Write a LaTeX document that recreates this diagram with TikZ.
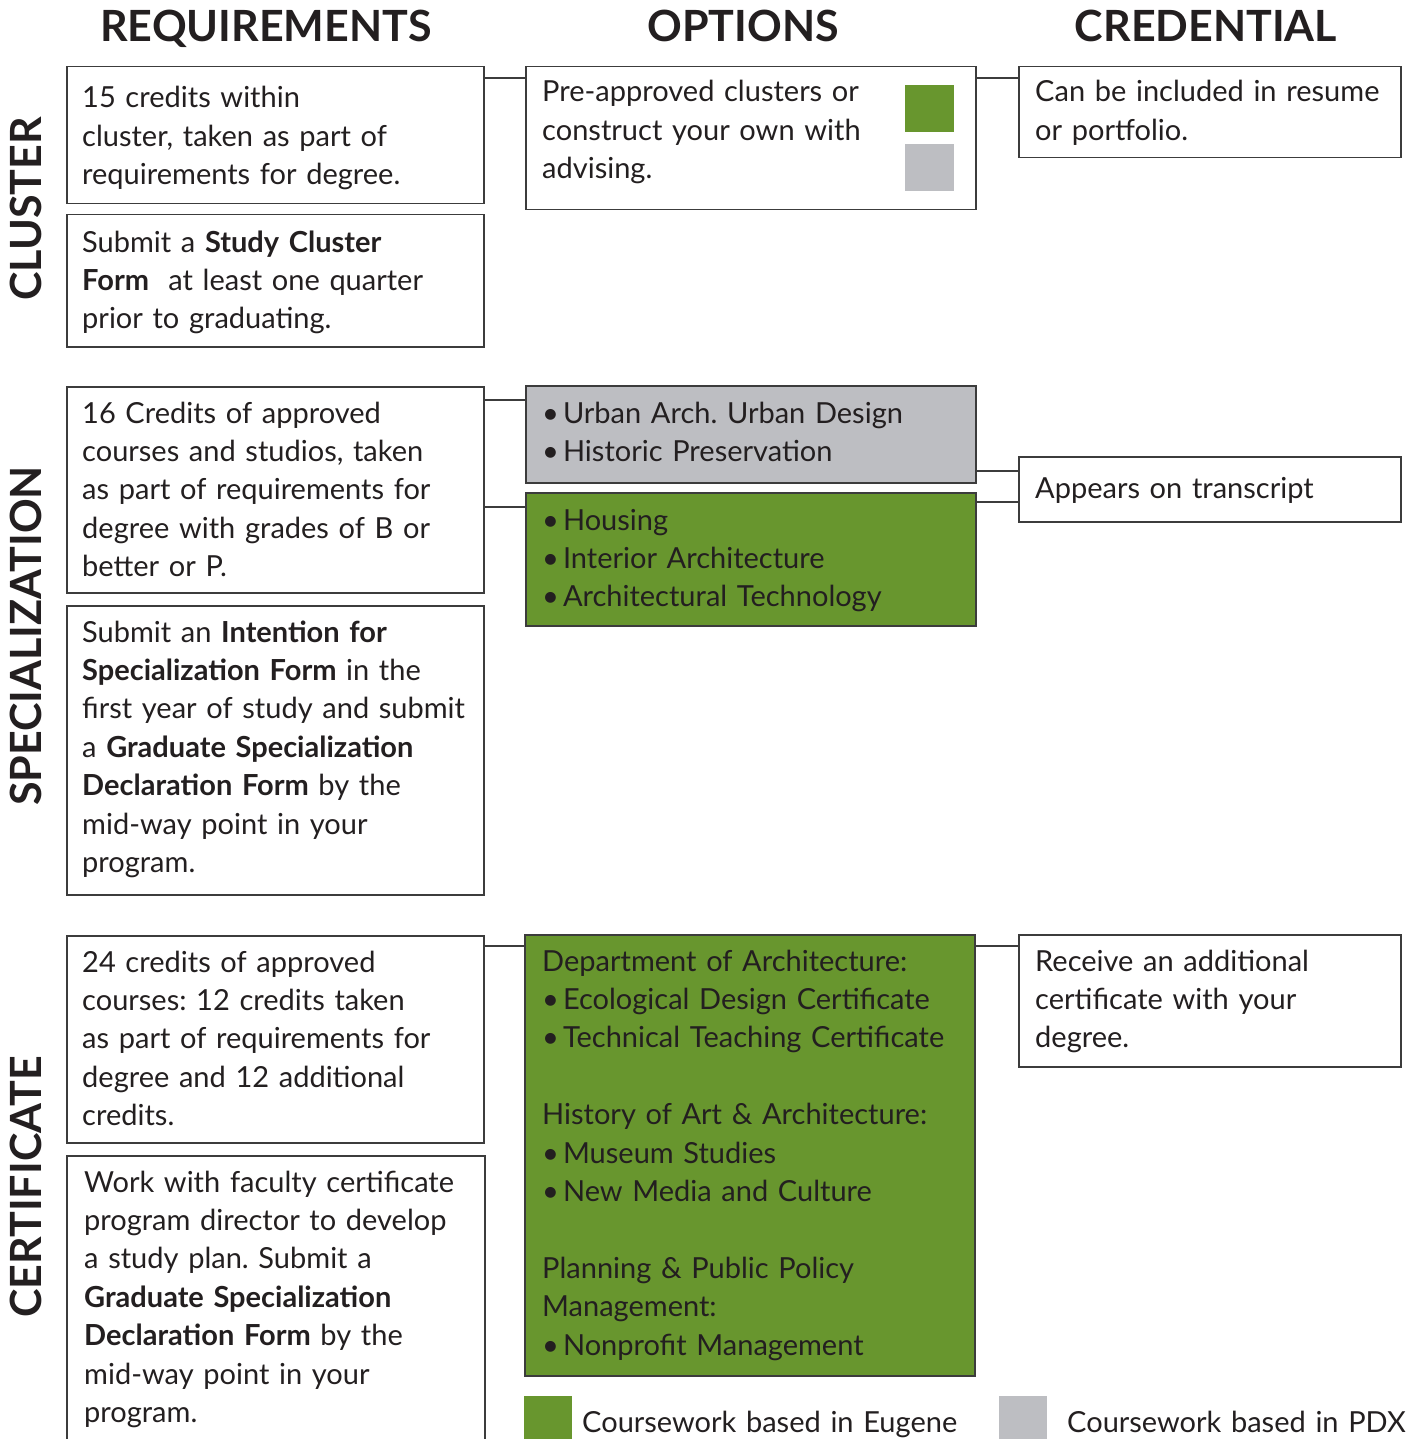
\documentclass[tikz,border=0pt]{standalone}
\usepackage{fontspec}
\setmainfont{Lato}
\definecolor{ink}{HTML}{231F20}
\definecolor{linegray}{HTML}{3C3C3C}
\definecolor{ugreen}{HTML}{68962E}
\definecolor{pgray}{HTML}{BDBEC2}
\newcommand{\bul}{\textbullet\hspace{4pt}}
\begin{document}
\frenchspacing
\begin{tikzpicture}[x=1pt,y=-1pt,
  box/.style={draw=linegray, line width=1.5pt, inner sep=0pt, anchor=north west},
  txt/.style={anchor=base west, inner sep=0pt, text width=600pt, align=left,
              font=\fontsize{29pt}{38.4pt}\selectfont\frenchspacing, text=ink},
  head/.style={font=\fontsize{43pt}{48pt}\selectfont\bfseries, text=ink, inner sep=0pt, anchor=base},
  conn/.style={draw=linegray, line width=1.5pt},
  swatch/.style={inner sep=0pt, anchor=north west}]
\clip (0,0) rectangle (1420,1439);
\fill[white] (0,0) rectangle (1420,1439);

% column headers
\node[head] (hreq) at (266,42) {REQUIREMENTS};
\node[head] (hopt) at (743,42) {OPTIONS};
\node[head] (hcred) at (1206,42) {CREDENTIAL};

% row labels
\node[head, rotate=90] (lclu) at (41,209) {CLUSTER};
\node[head, rotate=90] (lspe) at (41,636) {SPECIALIZATION};
\node[head, rotate=90] (lcer) at (41,1187) {CERTIFICATE};

% ---------- CLUSTER ----------
\node[box, minimum width=417pt, minimum height=137pt] (r1) at (66,66) {};
\node[txt] (r1t) at (82,108) {15 credits within\\ cluster, taken as part of\\ requirements for degree.};
\node[box, minimum width=417pt, minimum height=132pt] (r2) at (66,214) {};
\node[txt] (r2t) at (82,252) {Submit a \textbf{Study Cluster}\\ \textbf{Form}\ \ at least one quarter\\ prior to graduating.};

\node[box, minimum width=450pt, minimum height=143pt] (o1) at (525,66) {};
\node[txt] (o1t) at (542,102) {Pre-approved clusters or\\ construct your own with\\ advising.};
\node[swatch, fill=ugreen, minimum width=49pt, minimum height=47pt] (o1g) at (905,85) {};
\node[swatch, fill=pgray, minimum width=49pt, minimum height=47pt] (o1p) at (905,144) {};

\node[box, minimum width=382pt, minimum height=91pt] (k1) at (1018,66) {};
\node[txt] (k1t) at (1035,102) {Can be included in resume\\ or portfolio.};

\draw[conn] ([yshift=-12pt]r1.north east) -- ([yshift=-12pt]r1.north east -| o1.west);
\draw[conn] ([yshift=-12pt]o1.north east) -- ([yshift=-12pt]o1.north east -| k1.west);

% ---------- SPECIALIZATION ----------
\node[box, minimum width=417pt, minimum height=206pt] (s1) at (66,386) {};
\node[txt] (s1t) at (82,423) {16 Credits of approved\\ courses and studios, taken\\ as part of requirements for\\ degree with grades of B or\\ better or P.};
\node[box, minimum width=417pt, minimum height=289pt] (s2) at (66,605) {};
\node[txt] (s2t) at (82,642) {Submit an \textbf{Intention for}\\ \textbf{Specialization Form} in the\\ first year of study and submit\\ a \textbf{Graduate Specialization}\\ \textbf{Declaration Form} by the\\ mid-way point in your\\ program.};

\node[box, fill=pgray, minimum width=450pt, minimum height=97pt] (sg) at (525,385) {};
\node[txt] (sgt) at (542,423) {\bul Urban Arch. Urban Design\\ \bul Historic Preservation};
\node[box, fill=ugreen, minimum width=450pt, minimum height=133pt] (sp) at (525,492) {};
\node[txt] (spt) at (542,530) {\bul Housing\\ \bul Interior Architecture\\ \bul Architectural Technology};

\node[box, minimum width=382pt, minimum height=65pt] (k2) at (1018,456) {};
\node[txt] (k2t) at (1035,498) {Appears on transcript};

\draw[conn] ([yshift=-14pt]s1.north east) -- ([yshift=-14pt]s1.north east -| sg.west);
\draw[conn] ([yshift=-121pt]s1.north east) -- ([yshift=-121pt]s1.north east -| sp.west);
\draw[conn] ([yshift=-86pt]sg.north east) -- ([yshift=-86pt]sg.north east -| k2.west);
\draw[conn] ([yshift=-10pt]sp.north east) -- ([yshift=-10pt]sp.north east -| k2.west);

% ---------- CERTIFICATE ----------
\node[box, minimum width=417pt, minimum height=207pt] (c1) at (66,935) {};
\node[txt] (c1t) at (82,972) {24 credits of approved\\ courses: 12 credits taken\\ as part of requirements for\\ degree and 12 additional\\ credits.};
\node[box, minimum width=418pt, minimum height=310pt] (c2) at (66,1155) {};
\node[txt] (c2t) at (84,1192) {Work with faculty certificate\\ program director to develop\\ a study plan. Submit a\\ \textbf{Graduate Specialization}\\ \textbf{Declaration Form} by the\\ mid-way point in your\\ program.};

\node[box, fill=ugreen, minimum width=450pt, minimum height=441pt] (cp) at (524,934) {};
\node[txt] (cpt) at (542,971) {Department of Architecture:\\ \bul Ecological Design Certificate\\ \bul Technical Teaching Certificate\\[38.4pt] History of Art \& Architecture:\\ \bul Museum Studies\\ \bul New Media and Culture\\[38.4pt] Planning \& Public Policy\\ Management:\\ \bul Nonprofit Management};

\node[box, minimum width=382pt, minimum height=132pt] (k3) at (1018,934) {};
\node[txt] (k3t) at (1035,971) {Receive an additional\\ certificate with your\\ degree.};

\draw[conn] ([yshift=-11pt]c1.north east) -- ([yshift=-11pt]c1.north east -| cp.west);
\draw[conn] ([yshift=-12pt]cp.north east) -- ([yshift=-12pt]cp.north east -| k3.west);

% ---------- LEGEND ----------
\node[swatch, fill=ugreen, minimum width=48pt, minimum height=45pt] (lg) at (524,1396) {};
\node[txt] (lgt) at (582,1432) {Coursework based in Eugene};
\node[swatch, fill=pgray, minimum width=48pt, minimum height=45pt] (lp) at (999,1396) {};
\node[txt] (lpt) at (1067,1432) {Coursework based in PDX};
\end{tikzpicture}
\end{document}
